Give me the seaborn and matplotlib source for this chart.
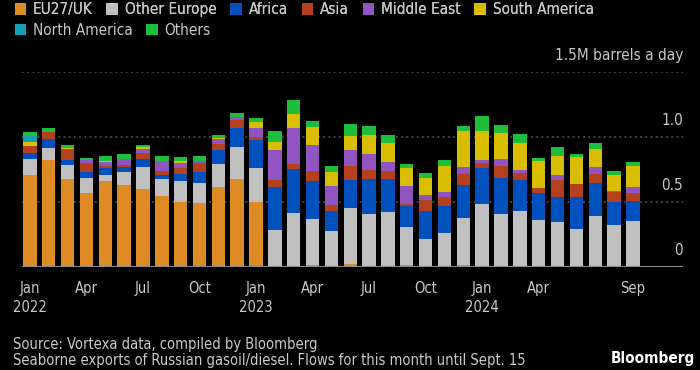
import numpy as np
import pandas as pd
import matplotlib
matplotlib.use("Agg")
import matplotlib.pyplot as plt
from matplotlib.patches import Patch
import seaborn as sns

# ---- data (million barrels a day), Jan 2022 .. Sep 2024 ----
months = pd.date_range("2022-01-01", "2024-09-01", freq="MS")

eu_uk = [0.705, 0.82, 0.677, 0.569, 0.656, 0.628, 0.595, 0.544, 0.497, 0.49, 0.613, 0.677,
         0.497, 0.008, 0.005, 0.013, 0.008, 0.023, 0.008, 0.005, 0.013, 0.005, 0.005, 0.01,
         0.008, 0.008, 0.003, 0.0, 0.0, 0.0, 0.0, 0.0, 0.0]
other_europe = [0.121, 0.09, 0.103, 0.113, 0.051, 0.097, 0.169, 0.131, 0.159, 0.151, 0.179, 0.244,
                0.262, 0.277, 0.408, 0.351, 0.266, 0.431, 0.395, 0.418, 0.29, 0.208, 0.254, 0.362,
                0.471, 0.4, 0.428, 0.362, 0.341, 0.292, 0.387, 0.318, 0.349]
africa = [0.046, 0.069, 0.041, 0.046, 0.054, 0.041, 0.067, 0.033, 0.059, 0.09, 0.108, 0.146,
          0.218, 0.326, 0.338, 0.292, 0.157, 0.21, 0.269, 0.251, 0.161, 0.218, 0.208, 0.259,
          0.28, 0.277, 0.236, 0.205, 0.195, 0.241, 0.254, 0.182, 0.159]
asia = [0.056, 0.059, 0.087, 0.069, 0.015, 0.015, 0.041, 0.028, 0.044, 0.064, 0.046, 0.064,
        0.021, 0.056, 0.036, 0.077, 0.041, 0.11, 0.069, 0.059, 0.021, 0.082, 0.069, 0.084,
        0.038, 0.092, 0.054, 0.036, 0.128, 0.103, 0.072, 0.072, 0.056]
middle_east = [0.0, 0.0, 0.0, 0.026, 0.031, 0.044, 0.036, 0.074, 0.038, 0.015, 0.036, 0.018,
               0.072, 0.231, 0.282, 0.203, 0.146, 0.121, 0.123, 0.072, 0.136, 0.041, 0.036, 0.051,
               0.026, 0.054, 0.023, 0.005, 0.038, 0.0, 0.054, 0.01, 0.049]
south_america = [0.033, 0.0, 0.005, 0.0, 0.008, 0.0, 0.01, 0.0, 0.013, 0.0, 0.01, 0.0,
                 0.041, 0.064, 0.108, 0.136, 0.113, 0.113, 0.151, 0.149, 0.141, 0.131, 0.2, 0.279,
                 0.221, 0.197, 0.207, 0.205, 0.146, 0.21, 0.141, 0.126, 0.164]
north_america = [0.044] + [0.0] * 32
others = [0.028, 0.028, 0.021, 0.013, 0.033, 0.044, 0.021, 0.038, 0.033, 0.038, 0.021, 0.036,
          0.031, 0.079, 0.105, 0.046, 0.044, 0.09, 0.067, 0.061, 0.031, 0.033, 0.051, 0.041,
          0.115, 0.064, 0.072, 0.026, 0.072, 0.023, 0.044, 0.028, 0.031]

series_names = ["EU27/UK", "Other Europe", "Africa", "Asia", "Middle East",
                "South America", "North America", "Others"]
series_vals = [eu_uk, other_europe, africa, asia, middle_east,
               south_america, north_america, others]
colors = ["#DE8B26", "#C0C0C0", "#0050BE", "#B4401E", "#9055C0",
          "#D9BE00", "#12A0B4", "#1EBE3C"]

tick_pos = [0, 3, 6, 9, 12, 15, 18, 21, 24, 27, 32]
tick_labels = ["Jan\n2022", "Apr", "Jul", "Oct", "Jan\n2023", "Apr", "Jul", "Oct",
               "Jan\n2024", "Apr", "Sep"]
y_levels = [0, 0.5, 1.0, 1.5]
y_labels = ["0", "0.5", "1.0", "1.5M barrels a day"]

# ---- style ----
sns.set_theme(style="dark")
plt.rcParams["font.family"] = ["DejaVu Sans"]
plt.rcParams["font.stretch"] = "condensed"
TXT = "#C8C8C8"

fig = plt.figure(figsize=(7, 3.7), dpi=100, facecolor="black")
ax = fig.add_axes([22 / 700, 103.3 / 370, (683 - 22) / 700, (298.3 - 103.3) / 370])
ax.set_facecolor("black")

df = pd.DataFrame({n: v for n, v in zip(series_names, series_vals)})
df["idx"] = np.arange(len(months))
cum = df[series_names].cumsum(axis=1)

for name, col in reversed(list(zip(series_names, colors))):
    sns.barplot(x=df["idx"], y=cum[name], color=col, saturation=1, width=0.71,
                linewidth=0, errorbar=None, ax=ax, zorder=2)

for v in y_levels[1:]:
    ax.axhline(v, color="#5a5a5a", lw=1.1, ls=(0, (1.2, 2.2)), zorder=0.5)
ax.axhline(0, color="#8a8a8a", lw=1.5, zorder=3)

ax.set_xlim(-0.42, 34.66)
ax.set_ylim(0, 1.5)
for s in ax.spines.values():
    s.set_visible(False)
ax.set_yticks([])
ax.set_xticks(tick_pos)
ax.set_xticklabels(tick_labels, color=TXT, fontsize=10.5, linespacing=1.35)
ax.tick_params(axis="x", colors="#8a8a8a", length=5, width=1, pad=5, labelcolor=TXT)
ax.set_xlabel("")
ax.set_ylabel("")
ax.grid(False)

for v, lab in zip(y_levels, y_labels):
    ax.annotate(lab, xy=(1.0, v), xycoords=("axes fraction", "data"),
                xytext=(0, 6), textcoords="offset points", ha="right", va="bottom",
                color=TXT, fontsize=11)

# legend: two rows
handles = [Patch(facecolor=c, edgecolor="none") for c in colors]
leg1 = fig.legend(handles[:6], series_names[:6], loc="upper left", bbox_to_anchor=(0.012, 1.01),
                  ncol=6, frameon=False, fontsize=11, handlelength=0.75, handleheight=0.75,
                  handletextpad=0.45, columnspacing=0.9, labelcolor=TXT, borderaxespad=0)
leg2 = fig.legend(handles[6:], series_names[6:], loc="upper left", bbox_to_anchor=(0.012, 0.955),
                  ncol=2, frameon=False, fontsize=11, handlelength=0.75, handleheight=0.75,
                  handletextpad=0.45, columnspacing=0.9, labelcolor=TXT, borderaxespad=0)
fig.add_artist(leg1)

fig.text(13 / 700, 1 - 345 / 370, "Source: Vortexa data, compiled by Bloomberg",
         color=TXT, fontsize=10.5, ha="left", va="center")
fig.text(13 / 700, 1 - 361 / 370,
         "Seaborne exports of Russian gasoil/diesel. Flows for this month until Sept. 15",
         color=TXT, fontsize=10.5, ha="left", va="center")
fig.text(695 / 700, 1 - 358 / 370, "Bloomberg", color="white", fontsize=11,
         fontweight="bold", ha="right", va="center")

fig.savefig("out.png", dpi=100, facecolor="black")
